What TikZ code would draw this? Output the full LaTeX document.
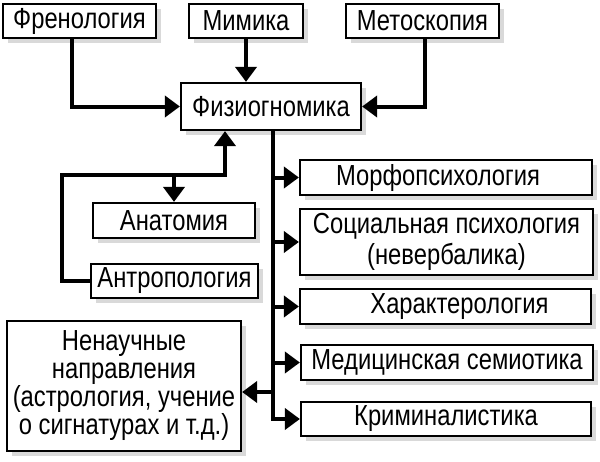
\documentclass[tikz,border=0pt]{standalone}
\usepackage{fontspec}
\setmainfont{Liberation Sans}[FakeStretch=0.82]
\usetikzlibrary{arrows.meta,shadows,calc}
\begin{document}
\begin{tikzpicture}[x=1pt,y=-1pt,
  box/.style={draw, line width=2.2pt, fill=white, inner sep=0pt, align=center,
    font=\fontsize{29}{28}\selectfont,
    drop shadow={shadow xshift=5pt, shadow yshift=-5pt, fill=black!15, opacity=1}},
  conn/.style={line width=4pt, -{Triangle[length=15pt,width=21pt]}},
  wire/.style={line width=4pt}]
\useasboundingbox[fill=white] (0,0) rectangle (600,461);
% top row
\node[box, minimum width=153pt, minimum height=34pt] (fren) at (79.5,21) {Френология};
\node[box, minimum width=114pt, minimum height=34pt] (mim) at (246,21) {Мимика};
\node[box, minimum width=153pt, minimum height=34pt] (met) at (422.5,21) {Метоскопия};
\node[box, minimum width=180pt, minimum height=47pt] (fiz) at (271,106.5) {Физиогномика};
% left
\node[box, minimum width=162pt, minimum height=35pt] (anat) at (174,220.5) {Анатомия};
\node[box, minimum width=167pt, minimum height=34pt] (antr) at (174.5,281) {Антропология};
\node[box, minimum width=234pt, minimum height=130pt] (nen) at (124,386) {Ненаучные\\направления\\(астрология, учение\\о сигнатурах и т.д.)};
% right
\node[box, minimum width=292pt, minimum height=35pt] (morf) at (446,177.5) {Морфопсихология\hspace{16pt}};
\node[box, minimum width=293pt, minimum height=66pt, font=\fontsize{29}{31}\selectfont] (soc) at (446.5,242) {Социальная психология\\(невербалика)};
\node[box, minimum width=291pt, minimum height=35pt] (har) at (445.5,306.5) {\hspace{28pt}Характерология};
\node[box, minimum width=292pt, minimum height=35pt] (med) at (447,362.5) {Медицинская семиотика};
\node[box, minimum width=290pt, minimum height=34pt] (krim) at (446,419) {Криминалистика};
% coordinates
\coordinate (lc) at (62,175);
\coordinate (tr) at ($(fiz.south)+(2,0)$);
% connectors into Физиогномика
\draw[conn] ($(fren.south)+(-7.5,0)$) |- (fiz.west);
\draw[conn] (mim.south) -- (mim.south |- fiz.north);
\draw[conn] ($(met.south)+(2.5,0)$) |- (fiz.east);
\draw[conn] (antr.west) -| (lc) -| ($(fiz.south)+(-46,0)$);
\draw[conn] (anat.north |- lc) -- (anat.north);
% trunk
\draw[conn] (tr) |- (krim.west);
\draw[conn] (tr |- morf.west) -- (morf.west);
\draw[conn] (tr |- soc.west) -- (soc.west);
\draw[conn] (tr |- har.west) -- (har.west);
\draw[conn] (tr |- med.west) -- (med.west);
\draw[conn] ($(tr |- nen.east)+(0,6)$) -- ($(nen.east)+(0,6)$);
\end{tikzpicture}
\end{document}
